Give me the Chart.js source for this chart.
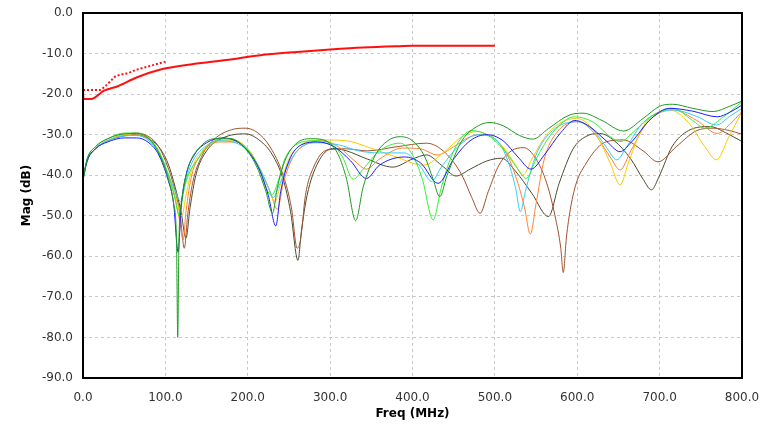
<!DOCTYPE html>
<html lang="en">
<head>
  <meta charset="UTF-8">
  <title>Mag (dB) vs Freq (MHz)</title>
  <script src="https://cdn.jsdelivr.net/npm/chart.js"></script>
  <style>
    body {
      margin: 0;
      background-color: #ffffff;
    }
    #chart-box {
      width: 770px;
      height: 428px;
    }
  </style>
</head>
<body>
  <div id="chart-box">
    <canvas id="magChart" width="770" height="428"></canvas>
  </div>

  <script>
    // tick values
    const xTicks = [0, 100, 200, 300, 400, 500, 600, 700, 800];
    const yTicks = [0, -10, -20, -30, -40, -50, -60, -70, -80, -90];

    // red reference curve (solid) and red dotted curve
    const redF  = [0, 0.5, 3.5, 10.5, 25, 43, 65, 93, 134, 174, 215, 260, 300, 340, 380, 400, 450, 500];
    const redDb = [-19, -21.2, -21.2, -21.2, -19.2, -18, -15.9, -14, -12.6, -11.6, -10.4, -9.6, -9.0, -8.5, -8.2, -8.1, -8.1, -8.1];

    const redDotF  = [0, 10, 20.5, 25, 33, 39, 46, 53, 65, 79, 93, 100];
    const redDotDb = [-19, -19, -19, -18.4, -16.9, -15.7, -15.2, -14.9, -14, -13.2, -12.4, -12];

    // measured curves
    const greenF  = [0, 5, 15, 30, 50, 65, 80, 92, 103, 110, 113.5, 115, 116.5, 120, 128, 140, 160, 180, 195, 210, 222, 230, 236, 245, 260, 278, 295, 310, 320, 331, 340, 355, 370, 385, 400, 415, 425, 433, 442, 460, 480, 494, 510, 530, 546, 565, 590, 607, 630, 656, 680, 700, 716, 740, 765, 785, 800];
    const greenDb = [-41, -36, -33, -31, -29.8, -29.7, -31, -34.5, -40.5, -47, -56, -80, -56, -46, -38, -33.5, -31, -31, -33, -37.5, -44, -49.4, -43, -36.5, -32, -31, -31.5, -35, -41, -51.2, -43, -35, -31.5, -30.5, -31.5, -35.5, -41, -45.3, -40, -31.5, -27.8, -27, -27.8, -30.2, -31.1, -28.5, -25.2, -24.7, -26.5, -29.1, -26, -23, -22.5, -23.5, -24.3, -23, -21.7];

    const blueF  = [0, 5, 15, 30, 50, 65, 80, 92, 103, 110, 115.5, 119, 125, 135, 150, 170, 185, 200, 215, 225, 234, 240, 250, 265, 285, 305, 325, 344, 360, 390, 410, 431, 450, 470, 490, 510, 528, 544, 560, 580, 597, 615, 635, 652, 665, 690, 712, 740, 770, 785, 800];
    const blueDb = [-41, -36.5, -33.5, -31.8, -30.8, -30.8, -32, -35, -41, -47, -59, -48, -40, -35, -32, -30.8, -31.5, -34, -39, -45, -52.5, -44, -36.5, -32.5, -31.8, -33, -36.5, -40.8, -37.5, -35.5, -37, -42, -36, -31.5, -30, -31.5, -35.5, -38.5, -35, -29.5, -26.5, -28, -31.5, -34.2, -32, -26, -23.5, -24.2, -25.6, -24.5, -22.7];

    const cyanF  = [0, 5, 15, 30, 50, 65, 80, 92, 103, 112, 119, 124, 132, 145, 165, 185, 200, 215, 225, 231, 238, 250, 265, 285, 310, 335, 360, 390, 410, 423, 435, 455, 480, 500, 515, 525, 531, 537, 550, 570, 599, 620, 635, 648, 660, 680, 716, 745, 769, 785, 800];
    const cyanDb = [-41, -36.5, -33.5, -31.5, -30.3, -30.2, -31.5, -34.5, -39.5, -44, -46.5, -42, -37, -33.5, -31.5, -32, -34, -38.5, -43, -45.5, -42.5, -37, -33, -32, -32.5, -34, -34.5, -34.5, -38, -41.5, -38, -33, -30, -31, -36, -43, -49, -44, -35, -29, -26.8, -29, -33, -36.2, -33, -27, -23.9, -25.5, -27.6, -25.5, -23.5];

    const limeF  = [0, 5, 15, 30, 50, 65, 80, 92, 103, 111, 117, 122, 130, 138, 150, 170, 190, 205, 215, 222, 229, 236, 245, 260, 280, 300, 315, 328, 340, 360, 385, 400, 412, 425, 435, 450, 472, 490, 510, 528, 538, 550, 570, 597, 620, 640, 652, 670, 690, 716, 740, 755, 775, 800];
    const limeDb = [-41, -36, -33, -31, -29.6, -29.6, -30.8, -34, -39.5, -45, -50, -44, -39, -36.5, -33, -31, -32, -35, -39, -43, -45, -42, -36, -32.3, -31.5, -32, -35.5, -41, -38.5, -34, -32.1, -35, -41, -51, -43, -34, -29, -30, -33.5, -38.5, -40.8, -36, -29.5, -25.6, -27, -30.5, -31.7, -29, -25.5, -23.5, -26.5, -28.4, -26, -21.9];

    const yellowF  = [0, 5, 15, 30, 50, 65, 80, 92, 103, 112, 120, 125, 133, 145, 165, 185, 200, 215, 225, 233, 240, 250, 265, 290, 320, 345, 380, 413, 440, 460, 478, 495, 512, 525, 534, 545, 565, 599, 620, 640, 652, 662, 680, 712, 735, 755, 769, 783, 800];
    const yellowDb = [-41, -36.5, -33.5, -31.5, -30, -29.8, -31, -34.5, -40, -45, -50, -45, -38, -34, -31.5, -31.5, -33.5, -38.5, -43, -46.5, -42, -36, -32.5, -31.3, -31.5, -33, -35.5, -37.5, -34, -30.5, -29.2, -30.5, -33.5, -37.5, -40, -36, -29.5, -26, -29, -37, -42.4, -37, -28, -23.9, -27, -33, -36.2, -31, -24.3];

    const orangeF  = [0, 5, 15, 30, 50, 65, 80, 92, 103, 112, 118, 121.5, 125, 132, 145, 165, 185, 200, 215, 227, 236, 243, 255, 270, 290, 310, 330, 344, 360, 388, 410, 430, 450, 470, 485, 500, 515, 528, 536, 543, 550, 560, 575, 601, 620, 640, 652, 665, 685, 716, 745, 770, 785, 800];
    const orangeDb = [-41, -36.5, -33.5, -31.5, -30.2, -30.2, -31.2, -34.5, -40, -46, -52, -56, -49, -40, -34.5, -31.8, -31.8, -33.5, -38.5, -44, -48.4, -42, -35.5, -32.5, -31.5, -33, -36.5, -38.5, -36, -33.3, -33.5, -35, -33, -30.5, -30, -31, -35, -42, -48, -54.5, -47, -36, -29.5, -26.8, -29.5, -35.5, -38.7, -34, -27, -23.9, -26.5, -29.7, -27.5, -24.3];

    const brownF  = [0, 5, 15, 30, 50, 65, 80, 92, 103, 112, 118, 123, 127, 133, 145, 160, 180, 197, 215, 230, 243, 253, 260, 264, 270, 280, 296, 320, 345, 380, 417, 440, 460, 472, 482, 492, 505, 520, 535, 550, 563, 573, 580, 583, 587, 596, 611, 636, 656, 680, 698, 720, 745, 765, 785, 800];
    const brownDb = [-41, -36.5, -33.5, -31.5, -30, -29.6, -30.5, -33, -38, -44, -50, -58, -50, -42, -35, -31, -28.8, -28.4, -30, -34, -40, -48, -58, -56, -45, -38, -33.8, -33.5, -34, -33, -32.1, -34.5, -40, -45.5, -49.4, -44, -37.5, -34, -33.2, -36, -42, -50, -58, -64, -55, -44, -37, -31.7, -31.3, -34, -36.7, -33, -29, -28.4, -29, -29.9];

    const oliveF  = [0, 5, 15, 30, 50, 65, 80, 92, 103, 112, 119, 125, 130, 137, 150, 170, 197, 215, 230, 243, 252, 261, 265, 272, 285, 303, 320, 345, 376, 400, 417, 435, 453, 470, 490, 508, 525, 545, 565, 578, 595, 610, 627, 645, 665, 680, 690, 700, 715, 735, 761, 780, 800];
    const oliveDb = [-41, -36.5, -33.5, -31.5, -30.3, -30, -31, -33, -37, -43, -49, -55.5, -48, -40, -34, -30.8, -29.8, -31.5, -35, -41, -49, -61, -54, -45, -37, -33.4, -34, -36, -38, -36, -35, -37.5, -40.2, -38.5, -36.5, -35.8, -39, -44.5, -50.2, -42, -33.5, -30.5, -29.7, -31.5, -36, -41, -43.6, -40, -33, -29, -28, -29.5, -31.7];

    function pts(f, db) {
      return f.map((x, i) => ({ x: x, y: db[i] }));
    }

    function curve(label, f, db, color) {
      return {
        label: label,
        data: pts(f, db),
        borderColor: color,
        borderWidth: 1,
        pointRadius: 0,
        fill: false,
        cubicInterpolationMode: 'monotone'
      };
    }

    // frame round the plot area
    const framePlugin = {
      id: 'frame',
      afterDraw(chart) {
        const a = chart.chartArea;
        const ctx = chart.ctx;
        ctx.save();
        ctx.strokeStyle = '#000000';
        ctx.lineWidth = 2;
        ctx.strokeRect(a.left, a.top, a.right - a.left, a.bottom - a.top);
        ctx.restore();
      }
    };

    const tickFont = { family: 'DejaVu Sans, Verdana, sans-serif', size: 12 };
    const titleFont = { family: 'DejaVu Sans, Verdana, sans-serif', size: 12, weight: 'bold' };

    const ctx = document.getElementById('magChart').getContext('2d');
    const magChart = new Chart(ctx, {
      type: 'line',
      data: {
        datasets: [
          Object.assign(curve('Red', redF, redDb, '#ff1010'), { borderWidth: 2 }),
          Object.assign(curve('Red dotted', redDotF, redDotDb, '#ff1010'), { borderWidth: 2, borderDash: [2, 2] }),
          curve('Green', greenF, greenDb, '#1f9a1f'),
          curve('Blue', blueF, blueDb, '#1a1aff'),
          curve('Lime', limeF, limeDb, '#33ee33'),
          curve('Cyan', cyanF, cyanDb, '#33ccff'),
          curve('Yellow', yellowF, yellowDb, '#ffc800'),
          curve('Orange', orangeF, orangeDb, '#ff8033'),
          curve('Brown', brownF, brownDb, '#a0522d'),
          curve('Olive', oliveF, oliveDb, '#4a4a30')
        ]
      },
      options: {
        responsive: false,
        animation: false,
        layout: { padding: { top: 13, right: 28, left: 0, bottom: 0 } },
        plugins: {
          legend: { display: false },
          tooltip: { enabled: false }
        },
        scales: {
          x: {
            type: 'linear',
            min: 0,
            max: 800,
            afterFit(s) {
              s.height = 50;
              s.paddingLeft = 0;
              s.paddingRight = 0;
            },
            afterBuildTicks(s) { s.ticks = xTicks.map(v => ({ value: v })); },
            ticks: {
              autoSkip: false,
              maxRotation: 0,
              padding: 13,
              color: '#333333',
              font: tickFont,
              callback: v => v.toFixed(1)
            },
            grid: { color: '#c8c8c8', drawTicks: false },
            border: { display: false, dash: [3, 3] },
            title: {
              display: true,
              text: 'Freq (MHz)',
              color: '#000000',
              font: titleFont,
              padding: { top: 0, bottom: 7 }
            }
          },
          y: {
            type: 'linear',
            min: -90,
            max: 0,
            afterFit(s) {
              s.width = 83;
              s.paddingTop = 0;
              s.paddingBottom = 0;
            },
            afterBuildTicks(s) { s.ticks = yTicks.map(v => ({ value: v })); },
            ticks: {
              autoSkip: false,
              padding: 10,
              color: '#333333',
              font: tickFont,
              callback: v => v.toFixed(1)
            },
            grid: { color: '#c8c8c8', drawTicks: false },
            border: { display: false, dash: [3, 3] },
            title: {
              display: true,
              text: 'Mag (dB)',
              color: '#000000',
              font: titleFont,
              padding: { top: 20, bottom: 0 }
            }
          }
        }
      },
      plugins: [framePlugin]
    });
  </script>
</body>
</html>
